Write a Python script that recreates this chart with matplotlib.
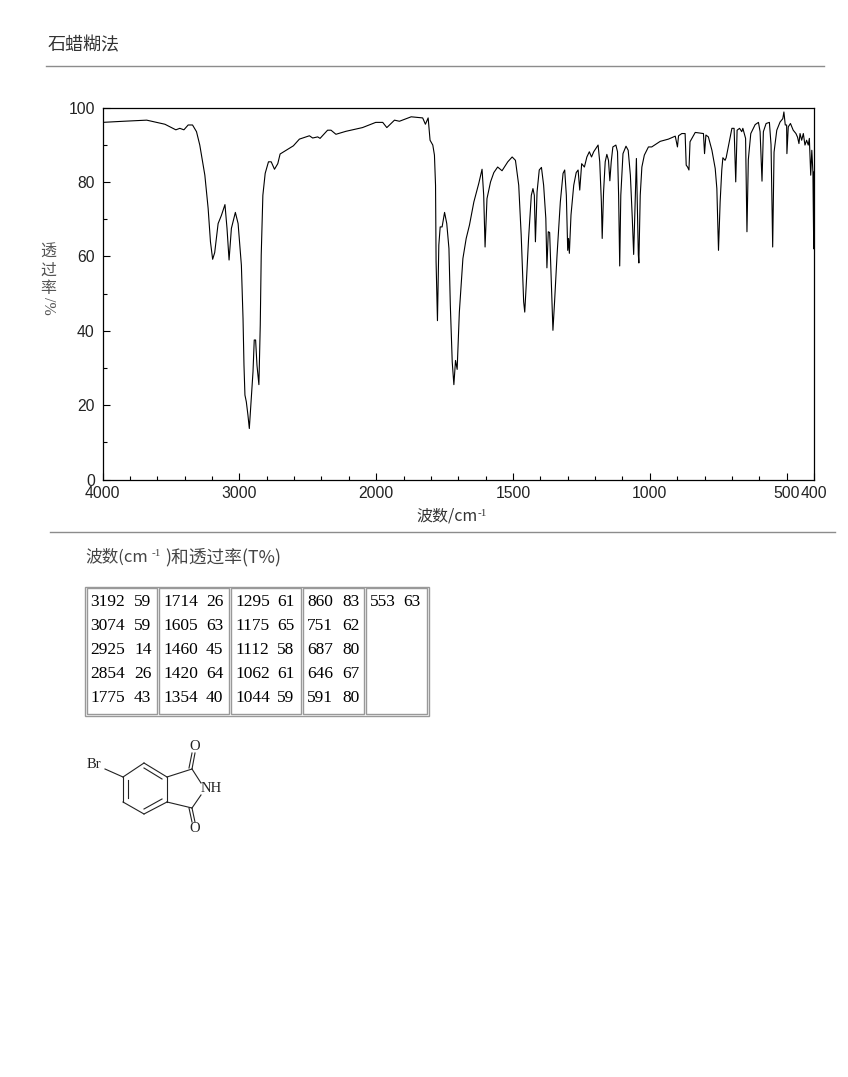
import matplotlib
matplotlib.use('Agg')
import matplotlib.pyplot as plt
import numpy as np
from matplotlib.patches import Rectangle

CJK = ['Noto Sans CJK SC', 'DejaVu Sans']
TICKFONT = ['Liberation Sans', 'DejaVu Sans']
SERIF = ['Liberation Serif', 'DejaVu Serif']

# spectrum: wavenumber, transmittance
wavenumber = [
    4000, 3847, 3677, 3544, 3464, 3435, 3405, 3374, 3342, 3313, 3289, 3252, 3228, 3211, 3195, 3180,
    3155, 3131, 3105, 3090, 3075, 3058, 3029, 3009, 2985, 2973, 2966, 2959, 2949, 2937, 2927, 2913,
    2900, 2891, 2881, 2871, 2857, 2847, 2840, 2828, 2811, 2787, 2767, 2743, 2719, 2702, 2658, 2605,
    2561, 2488, 2464, 2427, 2410, 2355, 2330, 2294, 2221, 2100, 2003, 1976, 1961, 1933, 1915, 1872,
    1830, 1820, 1810, 1803, 1793, 1787, 1783, 1781, 1776, 1771, 1766, 1759, 1750, 1742, 1734, 1729,
    1722, 1716, 1710, 1704, 1696, 1683, 1671, 1659, 1643, 1625, 1613, 1607, 1602, 1595, 1582, 1570,
    1556, 1540, 1519, 1503, 1491, 1479, 1470, 1461, 1457, 1451, 1443, 1433, 1427, 1422, 1418, 1412,
    1404, 1396, 1388, 1380, 1376, 1371, 1366, 1361, 1354, 1348, 1339, 1327, 1317, 1311, 1305, 1300,
    1297, 1294, 1288, 1278, 1269, 1262, 1256, 1249, 1239, 1230, 1221, 1213, 1205, 1189, 1183, 1177,
    1174, 1169, 1163, 1157, 1151, 1146, 1141, 1135, 1124, 1118, 1114, 1110, 1106, 1098, 1087, 1079,
    1071, 1064, 1059, 1053, 1049, 1042, 1040, 1035, 1029, 1020, 1005, 993, 962, 932, 907, 899,
    895, 883, 871, 867, 862, 857, 853, 846, 834, 804, 800, 795, 786, 773, 761, 755,
    749, 743, 737, 733, 725, 721, 712, 700, 692, 686, 681, 672, 664, 660, 655, 650,
    645, 640, 631, 615, 603, 597, 590, 585, 575, 563, 557, 551, 546, 536, 524, 514,
    510, 505, 500, 499, 494, 486, 476, 466, 460, 455, 451, 445, 439, 433, 427, 421,
    417, 412, 408, 404, 401, 400,
]
transmittance = [
    96, 96.3, 96.6, 95.5, 94, 94.4, 94, 95.3, 95.3, 93.5, 89.9, 81.8, 72.9, 63.9, 59.2, 61,
    68.8, 71, 73.9, 67.5, 59, 67.5, 71.8, 68.8, 57.6, 43.3, 30.7, 22.7, 20.9, 17.3, 13.7, 21.8,
    29, 37.5, 37.5, 30.7, 25.5, 41.5, 60.3, 76.4, 82.3, 85.4, 85.4, 83.4, 84.9, 87.5, 88.5, 89.7,
    91.5, 92.4, 91.8, 92.1, 91.7, 93.9, 93.9, 92.8, 93.6, 94.6, 96, 96, 94.6, 96.6, 96.3, 97.5,
    97.2, 95.5, 97.2, 91.2, 89.9, 87.2, 79.1, 58.5, 42.7, 63, 67.9, 67.9, 71.8, 68.8, 62.1, 46.9,
    31.6, 25.5, 32, 29.6, 45, 59.4, 64.8, 68.4, 74.6, 79.6, 83.4, 76.4, 62.5, 75.5, 80, 82.5,
    84, 83, 85.4, 86.7, 85.8, 79.1, 65.7, 47.8, 45, 53.1, 64.8, 76.4, 78.2, 76.4, 63.9, 77.3,
    83.2, 83.9, 79.1, 70.2, 56.9, 66.6, 66.4, 55.8, 40.1, 47.8, 60.3, 74.6, 82.3, 83.2, 76.4, 61.6,
    64.8, 60.8, 71.1, 79.1, 82.5, 83.2, 77.8, 84.9, 84, 86.7, 88.1, 86.7, 88.1, 89.9, 85.4, 74.6,
    64.8, 77.3, 85.4, 87.4, 85.8, 80.3, 85.4, 89.4, 89.9, 88.1, 76.4, 57.4, 76.4, 87.6, 89.6, 88.5,
    81.8, 70.2, 60.5, 76.4, 86.3, 60.5, 58.2, 76.4, 84, 87.2, 89.4, 89.4, 90.9, 91.5, 92.3, 89.4,
    92.4, 93, 93, 84.5, 84, 83.2, 90.8, 91.7, 93.3, 93, 87.6, 92.6, 92.1, 88.5, 83.6, 78.2,
    61.6, 74.6, 83.2, 86.5, 85.8, 86.5, 89.9, 94.4, 94.4, 80, 93.9, 94.4, 93.5, 94.4, 93, 91.7,
    66.6, 86, 93, 95.4, 96, 93.5, 80.2, 93.5, 95.7, 96, 90, 62.5, 88, 93.9, 96.1, 97,
    98.8, 95.3, 95.3, 87.6, 94.8, 95.7, 93.9, 93, 92, 90.3, 93, 91.2, 93, 89.9, 91.2, 89.9,
    91.7, 81.8, 88.5, 82.7, 62, 82.7,
]

x_major = [4000, 3000, 2000, 1500, 1000, 500, 400]
x_minor = [3800, 3600, 3400, 3200, 2800, 2600, 2400, 2200, 1900, 1800, 1700, 1600, 1400, 1300, 1200,
           1100, 900, 800, 700, 600]
y_major = [0, 20, 40, 60, 80, 100]
y_minor = [10, 30, 50, 70, 90]

# peak table, one list per column
table_wn = [[3192, 3074, 2925, 2854, 1775], [1714, 1605, 1460, 1420, 1354], [1295, 1175, 1112, 1062, 1044],
            [860, 751, 687, 646, 591], [553]]
table_t = [[59, 59, 14, 26, 43], [26, 63, 45, 64, 40], [61, 65, 58, 61, 59], [83, 62, 80, 67, 80], [63]]


# scale is compressed by two above 2000 cm-1
def to_axis(x):
    x = np.asarray(x, dtype=float)
    return np.where(x >= 2000, 1600 + (x - 2000) / 2, x - 400)


def from_axis(u):
    u = np.asarray(u, dtype=float)
    return np.where(u <= 1600, u + 400, 2000 + (u - 1600) * 2)


W, H = 848, 1077
fig = plt.figure(figsize=(W / 100, H / 100), dpi=100)

# overlay in pixel coordinates for everything around the plot
bg = fig.add_axes([0, 0, 1, 1])
bg.set_xlim(0, W)
bg.set_ylim(H, 0)
bg.axis('off')

ax = fig.add_axes([102.5 / W, 1 - 479.5 / H, 711.5 / W, 372 / H])
ax.set_xscale('function', functions=(to_axis, from_axis))
ax.plot(wavenumber, transmittance, color='black', lw=0.8)
ax.set_xticks(x_major, labels=[str(v) for v in x_major])
ax.set_xticks(x_minor, minor=True)
ax.set_yticks(y_major, labels=[str(v) for v in y_major])
ax.set_yticks(y_minor, minor=True)
ax.set_xlim(4000, 400)
ax.set_ylim(0, 100)
ax.tick_params(which='major', direction='in', length=5, width=0.8, labelsize=11.3, color='black')
ax.tick_params(which='minor', direction='in', length=2.6, width=0.8)
ax.tick_params(axis='x', which='major', pad=5)
ax.tick_params(axis='y', which='major', pad=5.5)
for lab in ax.get_xticklabels() + ax.get_yticklabels():
    lab.set_family(TICKFONT)
    lab.set_color('#222222')
for s in ax.spines.values():
    s.set_linewidth(0.9)

# header and rules
bg.text(48, 45, '石蜡糊法', family=CJK, fontsize=13, va='center', ha='left', color='#333333')
bg.plot([46, 824], [66, 66], color='#8c8c8c', lw=1)
bg.plot([50, 835], [531.5, 531.5], color='#8c8c8c', lw=1)

# axis titles
bg.text(416, 516, '波数/cm', family=CJK, fontsize=11.5, va='center', ha='left', color='#333333')
bg.text(478, 513, '-1', family=SERIF, fontsize=8, va='center', ha='left', color='#333333')
for ch, yy in zip('透过率', [252, 270, 288]):
    bg.text(48, yy, ch, family=CJK, fontsize=11.5, va='center', ha='center', color='#555555')
bg.text(48, 306, '/%', family=SERIF, fontsize=11.5, rotation=-90, va='center', ha='center', color='#555555')

# table heading
bg.text(85, 557, '波数(cm', family=CJK, fontsize=12, va='center', ha='left', color='#444444')
bg.text(152, 554, '-1', family=SERIF, fontsize=8, va='center', ha='left', color='#444444')
bg.text(165, 557, ')和透过率(T%)', family=CJK, fontsize=12.8, va='center', ha='left', color='#444444')

# peak table
bg.add_patch(Rectangle((84.5, 586.5), 344, 129, fill=False, ec='#999999', lw=1))
cell_x = [(86.5, 157), (159, 229), (231, 301), (303, 364), (365.5, 427)]
text_x = [(90, 134), (163, 206), (235, 277), (307, 342), (370, 403)]
row_y = [602, 626, 650, 674, 698]
for (x0, x1), (tx0, tx1), wns, ts in zip(cell_x, text_x, table_wn, table_t):
    bg.add_patch(Rectangle((x0, 587.5), x1 - x0, 126, fill=False, ec='#999999', lw=1))
    for yy, wn, t in zip(row_y, wns, ts):
        bg.text(tx0, yy, str(wn), family=SERIF, fontsize=12.5, va='center', ha='left', color='black')
        bg.text(tx1, yy, str(t), family=SERIF, fontsize=12.5, va='center', ha='left', color='black')

# structure drawing (5-bromophthalimide), pixel positions
bonds = [
    ((105, 769), (123, 777)),
    ((123, 777), (144, 763)), ((144, 763), (167, 777)), ((167, 777), (167, 802)),
    ((167, 802), (144, 814)), ((144, 814), (123, 802)), ((123, 802), (123, 777)),
    ((128, 780), (128, 798)), ((144, 768), (162, 779)), ((144, 809), (162, 799)),
    ((167, 777), (192, 769)), ((192, 769), (201, 783)),
    ((167, 802), (192, 808)), ((192, 808), (201, 795)),
    ((192, 769), (195, 753)), ((189, 768), (192, 753)),
    ((192, 808), (195, 822)), ((189, 808), (192, 822)),
]
for a, b in bonds:
    bg.plot([a[0], b[0]], [a[1], b[1]], color='#222222', lw=0.8)
bg.text(87, 764, 'Br', family=SERIF, fontsize=10.5, va='center', ha='left', color='#222222')
bg.text(201, 789, 'NH', family=SERIF, fontsize=10.5, va='center', ha='left', color='#222222')
bg.text(195, 747, 'O', family=SERIF, fontsize=10.5, va='center', ha='center', color='#222222')
bg.text(195, 828, 'O', family=SERIF, fontsize=10.5, va='center', ha='center', color='#222222')

fig.savefig('out.png', dpi=100, facecolor='white')
